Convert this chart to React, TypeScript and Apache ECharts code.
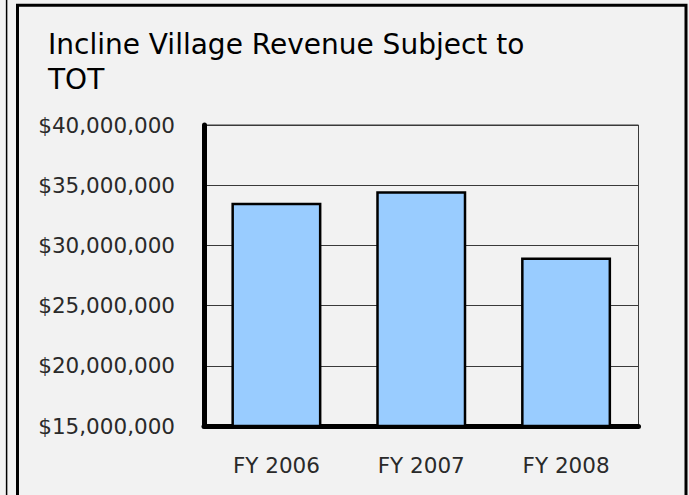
import React, { useEffect, useRef } from "react";
import * as echarts from "echarts";

const categories = ["FY 2006", "FY 2007", "FY 2008"];
const revenue = [33550000, 34500000, 29000000];
const titleText = "Incline Village Revenue Subject to\nTOT";
const yMin = 15000000;
const yMax = 40000000;
const yStep = 5000000;

export default function App() {
  const ref = useRef<HTMLDivElement>(null);
  useEffect(() => {
    if (!ref.current) return;
    const chart = echarts.init(ref.current, null, { renderer: "svg" });
    const font = "'DejaVu Sans', sans-serif";
    chart.setOption({
      animation: false,
      backgroundColor: "#f2f2f2",
      title: {
        text: titleText,
        left: 43,
        top: 22,
        textStyle: {
          fontFamily: font,
          fontSize: 28,
          lineHeight: 35,
          fontWeight: "normal",
          color: "#000",
        },
      },
      graphic: [
        {
          type: "line",
          shape: { x1: 6.6, y1: 0, x2: 6.6, y2: 495 },
          style: { stroke: "#000", lineWidth: 1.5 },
        },
        {
          type: "rect",
          shape: { x: 17.5, y: 5.3, width: 668.5, height: 500 },
          style: { fill: "none", stroke: "#000", lineWidth: 3 },
        },
      ],
      grid: {
        left: 204,
        right: 50.5,
        top: 125,
        bottom: 69,
        show: true,
        borderColor: "#3a3a3a",
        borderWidth: 1,
        backgroundColor: "transparent",
      },
      xAxis: {
        type: "category",
        data: categories,
        axisTick: { show: false },
        axisLine: { lineStyle: { color: "#000", width: 5 } },
        axisLabel: {
          margin: 28,
          fontFamily: font,
          fontSize: 21.5,
          lineHeight: 23,
          color: "#2a2a2a",
        },
      },
      yAxis: {
        type: "value",
        min: yMin,
        max: yMax,
        interval: yStep,
        axisTick: { show: false },
        axisLine: { show: true, lineStyle: { color: "#000", width: 5 } },
        splitLine: { lineStyle: { color: "#3a3a3a", width: 1 } },
        axisLabel: {
          margin: 29,
          fontFamily: font,
          fontSize: 21.5,
          color: "#2a2a2a",
          formatter: (v: number) => "$" + v.toLocaleString("en-US"),
        },
      },
      series: [
        {
          type: "bar",
          data: revenue,
          barWidth: 90,
          itemStyle: {
            color: "#99ccff",
            borderColor: "#000",
            borderWidth: 2.5,
          },
        },
      ],
    });
    return () => chart.dispose();
  }, []);
  return (
    <div
      ref={ref}
      style={{ position: "absolute", left: 0, top: 0, width: 689, height: 495 }}
    />
  );
}
